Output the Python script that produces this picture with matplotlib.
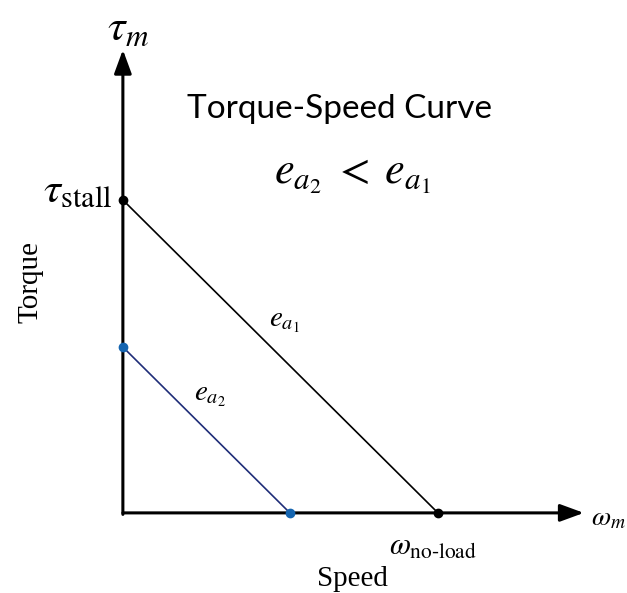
import matplotlib
matplotlib.use('Agg')
import matplotlib.pyplot as plt

plt.rcParams['mathtext.fontset'] = 'stix'

# data (speed normalised to no-load speed, torque to stall torque)
speed = [0.0, 1.0]
torque_ea1 = [1.0, 0.0]
speed_ea2 = [0.0, 0.53]
torque_ea2 = [0.53, 0.0]
axis_len_x = 1.463
axis_len_y = 1.480

fig = plt.figure(figsize=(6.27, 5.93), dpi=100)
ax = fig.add_axes([0, 0, 1, 1])
ax.set_xlim(-0.390, 1.600)
ax.set_ylim(-0.256, 1.639)
ax.axis('off')

# axes arrows; the vertical one starts a little below the origin to close the corner
arrow = dict(arrowstyle='-|>,head_length=0.6,head_width=0.22', color='black',
             lw=2.2, mutation_scale=24, shrinkA=0, shrinkB=0)
ax.annotate('', xy=(axis_len_x, 0), xytext=(0, 0), arrowprops=arrow)
ax.annotate('', xy=(0, axis_len_y), xytext=(0, -0.0048), arrowprops=arrow)

# torque-speed lines
ax.plot(speed, torque_ea1, color='black', lw=1.2)
ax.plot(speed_ea2, torque_ea2, color='#1f2d78', lw=1.2)
ax.plot(speed, torque_ea1, 'o', color='black', ms=6, zorder=5)
ax.plot(speed_ea2, torque_ea2, 'o', color='#1565b0', ms=6, zorder=5)

# labels
ax.text(0.016, 1.55, r'$\tau_m$', fontsize=32, ha='center', va='center')
ax.text(-0.035, 1.03, r'$\tau_{\mathrm{stall}}$', fontsize=31, ha='right', va='center')
ax.text(0.686, 1.29, 'Torque-Speed Curve', fontsize=24, family='Lato', ha='center', va='center')
ax.text(0.727, 1.08, r'$e_{a_2} \;<\; e_{a_1}$', fontsize=32, ha='center', va='center')
ax.text(0.514, 0.613, r'$e_{a_1}$', fontsize=21, ha='center', va='center')
ax.text(0.276, 0.377, r'$e_{a_2}$', fontsize=21, ha='center', va='center')
ax.text(0.984, -0.109, r'$\omega_{\mathrm{no\text{-}load}}$', fontsize=22, ha='center', va='center')
ax.text(1.540, -0.016, r'$\omega_m$', fontsize=20, ha='center', va='center')
ax.text(0.730, -0.211, 'Speed', fontsize=21, family='Liberation Serif', ha='center', va='center')
ax.text(-0.292, 0.738, 'Torque', fontsize=21, family='Liberation Serif', rotation=90,
        ha='center', va='center')

fig.savefig('out.png', dpi=100)
